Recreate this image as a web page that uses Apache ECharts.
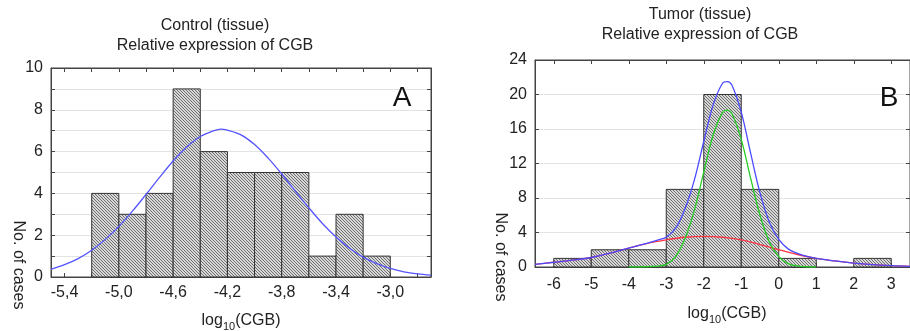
<!DOCTYPE html>
<html>
<head>
<meta charset="utf-8">
<script src="https://cdn.jsdelivr.net/npm/echarts@6/dist/echarts.min.js"></script>
<style>
  html, body { margin: 0; padding: 0; background: #fff; }
  #chart { width: 910px; height: 331px; }
</style>
</head>
<body>
<div id="chart"></div>
<script>
// ---- data ----
const controlEdges = [-5.2, -5.0, -4.8, -4.6, -4.4, -4.2, -4.0, -3.8, -3.6, -3.4, -3.2, -3.0];
const controlCounts = [4, 3, 4, 9, 6, 5, 5, 5, 1, 3, 1];
const controlCurveX = [-5.5, -5.4, -5.3, -5.2, -5.1, -5.0, -4.9, -4.8, -4.7, -4.6, -4.5, -4.4, -4.3, -4.25, -4.2,
  -4.1, -4.0, -3.9, -3.8, -3.7, -3.6, -3.5, -3.4, -3.3, -3.2, -3.1, -3.0, -2.9, -2.8, -2.7];
const controlCurveY = [0.37, 0.59, 0.88, 1.28, 1.80, 2.42, 3.15, 3.95, 4.77, 5.55, 6.22, 6.72, 7.0, 7.08, 7.03,
  6.80, 6.34, 5.69, 4.93, 4.11, 3.31, 2.56, 1.91, 1.38, 0.95, 0.64, 0.41, 0.25, 0.15, 0.09];
const controlTickLabels = [-5.4, -5.0, -4.6, -4.2, -3.8, -3.4, -3.0];
const controlTicks = [-5.4, -5.2, -5.0, -4.8, -4.6, -4.4, -4.2, -4.0, -3.8, -3.6, -3.4, -3.2, -3.0, -2.8];
const controlYLabels = [0, 2, 4, 6, 8, 10];

const tumorEdges = [-6, -5, -4, -3, -2, -1, 0, 1, 2, 3];
const tumorCounts = [1, 2, 2, 9, 20, 9, 1, 0, 1];
const tumorRedX = [-6.5, -6, -5.5, -5, -4.5, -4, -3.5, -3, -2.5, -2, -1.5, -1, -0.5, 0, 0.5, 1, 1.5, 2, 2.5, 3, 3.5];
const tumorRedY = [0.3, 0.55, 0.8, 1.1, 1.6, 2.2, 2.75, 3.15, 3.45, 3.55, 3.45, 3.15, 2.6, 2.0, 1.45, 1.0, 0.7, 0.45, 0.27, 0.15, 0.08];
const tumorGreenX = [-4, -3.5, -3.25, -3, -2.75, -2.5, -2.25, -2, -1.75, -1.5, -1.375, -1.25, -1, -0.75, -0.5, -0.25, 0, 0.25, 0.5, 0.75, 1];
const tumorGreenY = [0, 0.03, 0.1, 0.3, 1.2, 3.3, 6.6, 11.0, 15.3, 17.9, 18.2, 17.8, 14.8, 10.3, 6.0, 2.9, 1.2, 0.4, 0.12, 0.03, 0];
const tumorBlueX = [-6.5, -6, -5.5, -5, -4.5, -4, -3.5, -3.25, -3, -2.75, -2.5, -2.25, -2, -1.75, -1.5, -1.375, -1.25, -1, -0.75,
  -0.5, -0.25, 0, 0.25, 0.5, 0.75, 1, 1.5, 2, 2.5, 3, 3.5];
const tumorBlueY = [0.3, 0.55, 0.8, 1.1, 1.6, 2.2, 2.78, 3.1, 3.45, 4.5, 6.75, 10.1, 14.55, 18.8, 21.3, 21.5, 21.1, 17.95, 13.2,
  8.6, 5.2, 3.2, 2.1, 1.57, 1.23, 1.0, 0.7, 0.45, 0.27, 0.15, 0.08];
const tumorTickLabels = [-6, -5, -4, -3, -2, -1, 0, 1, 2, 3];

const FONT = '"Liberation Sans", Arial, sans-serif';
const INK = '#222';

// diagonal hatch fill for the histogram bars
const hatch = document.createElement('canvas');
hatch.width = 3;
hatch.height = 3;
(function () {
  const ctx = hatch.getContext('2d');
  ctx.fillStyle = '#d8d8d8';
  ctx.fillRect(0, 0, 3, 3);
  ctx.fillStyle = '#6e6e6e';
  for (let i = 0; i < 3; i++) ctx.fillRect(i, i, 1, 1);
})();
const hatchFill = { image: hatch, repeat: 'repeat' };

function bins(edges, counts) {
  return counts.map((c, i) => [edges[i], edges[i + 1], c]);
}

function renderBin(params, api) {
  const y = api.value(2);
  if (!y) return null;
  const p0 = api.coord([api.value(0), y]);
  const p1 = api.coord([api.value(1), 0]);
  return {
    type: 'rect',
    shape: { x: p0[0], y: p0[1], width: p1[0] - p0[0], height: p1[1] - p0[1] },
    style: { fill: hatchFill, stroke: '#333', lineWidth: 1 }
  };
}

function pairs(xs, ys) {
  return xs.map((x, i) => [x, ys[i]]);
}

const frame = { show: true, onZero: false, lineStyle: { color: '#444', width: 1 } };
const inTick = { show: true, inside: true, length: 4, lineStyle: { color: '#444' } };
const label = { color: INK, fontSize: 16, fontFamily: FONT };

function line(name, x, y, xi, yi, color) {
  return {
    name: name, type: 'line', xAxisIndex: xi, yAxisIndex: yi,
    data: pairs(x, y), smooth: 0.35, showSymbol: false, symbol: 'none',
    lineStyle: { color: color, width: 1.3 }, z: 5, silent: true
  };
}

const chart = echarts.init(document.getElementById('chart'));
chart.setOption({
  animation: false,
  grid: [
    { left: 51, right: 479, top: 68, bottom: 54, show: true, borderColor: '#444', borderWidth: 1 },
    { left: 535, right: -9, top: 60, bottom: 64, show: true, borderColor: '#444', borderWidth: 1 }
  ],
  xAxis: [
    {
      gridIndex: 0, type: 'value', min: -5.5, max: -2.7, position: 'bottom',
      axisLine: frame, splitLine: { show: false },
      axisTick: Object.assign({}, inTick, { customValues: controlTicks }),
      axisLabel: Object.assign({}, label, {
        margin: 8, customValues: controlTickLabels,
        formatter: v => v.toFixed(1).replace('.', ',')
      })
    },
    {
      gridIndex: 0, type: 'value', min: -5.5, max: -2.7, position: 'top',
      axisLine: frame, splitLine: { show: false }, axisLabel: { show: false },
      axisTick: Object.assign({}, inTick, { customValues: controlTicks })
    },
    {
      gridIndex: 1, type: 'value', min: -6.5, max: 3.5, position: 'bottom',
      axisLine: frame, splitLine: { show: false },
      axisTick: Object.assign({}, inTick, { customValues: tumorTickLabels }),
      axisLabel: Object.assign({}, label, { margin: 10, customValues: tumorTickLabels })
    },
    {
      gridIndex: 1, type: 'value', min: -6.5, max: 3.5, position: 'top',
      axisLine: frame, splitLine: { show: false }, axisLabel: { show: false },
      axisTick: Object.assign({}, inTick, { customValues: tumorTickLabels })
    }
  ],
  yAxis: [
    {
      gridIndex: 0, type: 'value', min: 0, max: 10, interval: 1, position: 'left',
      axisLine: frame, axisTick: inTick,
      axisLabel: Object.assign({}, label, { margin: 8, customValues: controlYLabels }),
      splitLine: { show: true, lineStyle: { color: '#e3e3e3', width: 1 } }
    },
    {
      gridIndex: 0, type: 'value', min: 0, max: 10, interval: 1, position: 'right',
      axisLine: frame, axisTick: inTick, axisLabel: { show: false }, splitLine: { show: false }
    },
    {
      gridIndex: 1, type: 'value', min: 0, max: 24, interval: 4, position: 'left',
      axisLine: frame, axisTick: inTick,
      axisLabel: Object.assign({}, label, { margin: 8 }),
      splitLine: { show: true, lineStyle: { color: '#e3e3e3', width: 1 } }
    },
    {
      gridIndex: 1, type: 'value', min: 0, max: 24, interval: 4, position: 'right',
      axisLine: frame, axisTick: inTick, axisLabel: { show: false }, splitLine: { show: false }
    }
  ],
  series: [
    {
      type: 'custom', xAxisIndex: 0, yAxisIndex: 0, renderItem: renderBin,
      data: bins(controlEdges, controlCounts), encode: { x: [0, 1], y: 2 }, z: 2, silent: true
    },
    line('Control fit', controlCurveX, controlCurveY, 0, 0, '#5555ff'),
    {
      type: 'custom', xAxisIndex: 2, yAxisIndex: 2, renderItem: renderBin,
      data: bins(tumorEdges, tumorCounts), encode: { x: [0, 1], y: 2 }, z: 2, silent: true
    },
    line('Tumor broad', tumorRedX, tumorRedY, 2, 2, '#ff3344'),
    line('Tumor narrow', tumorGreenX, tumorGreenY, 2, 2, '#22cc22'),
    line('Tumor total', tumorBlueX, tumorBlueY, 2, 2, '#4a4aff')
  ],
  graphic: [
    { type: 'text', x: 215, y: 26, style: { text: 'Control (tissue)', fontSize: 16, fontFamily: FONT, fill: INK, align: 'center', verticalAlign: 'middle' } },
    { type: 'text', x: 215, y: 46, style: { text: 'Relative expression of CGB', fontSize: 16, fontFamily: FONT, fill: INK, align: 'center', verticalAlign: 'middle' } },
    { type: 'text', x: 700, y: 15, style: { text: 'Tumor (tissue)', fontSize: 16, fontFamily: FONT, fill: INK, align: 'center', verticalAlign: 'middle' } },
    { type: 'text', x: 700, y: 35, style: { text: 'Relative expression of CGB', fontSize: 16, fontFamily: FONT, fill: INK, align: 'center', verticalAlign: 'middle' } },
    { type: 'text', x: 402, y: 98, z: 10, style: { text: 'A', fontSize: 28, fontFamily: FONT, fill: '#111', align: 'center', verticalAlign: 'middle' } },
    { type: 'text', x: 889, y: 98, z: 10, style: { text: 'B', fontSize: 28, fontFamily: FONT, fill: '#111', align: 'center', verticalAlign: 'middle' } },
    { type: 'text', x: 18, y: 265, rotation: -Math.PI / 2, style: { text: 'No. of cases', fontSize: 16, fontFamily: FONT, fill: INK, align: 'center', verticalAlign: 'middle' } },
    { type: 'text', x: 500, y: 257, rotation: -Math.PI / 2, style: { text: 'No. of cases', fontSize: 16, fontFamily: FONT, fill: INK, align: 'center', verticalAlign: 'middle' } },
    {
      type: 'text', x: 241, y: 321, style: {
        text: '{n|log}{s|10}{n|(CGB)}', fill: INK, align: 'center', verticalAlign: 'middle',
        rich: { n: { fontSize: 16, fontFamily: FONT, lineHeight: 22, fill: INK }, s: { fontSize: 11, fontFamily: FONT, verticalAlign: 'bottom', lineHeight: 11, fill: INK } }
      }
    },
    {
      type: 'text', x: 727, y: 314, style: {
        text: '{n|log}{s|10}{n|(CGB)}', fill: INK, align: 'center', verticalAlign: 'middle',
        rich: { n: { fontSize: 16, fontFamily: FONT, lineHeight: 22, fill: INK }, s: { fontSize: 11, fontFamily: FONT, verticalAlign: 'bottom', lineHeight: 11, fill: INK } }
      }
    }
  ]
});
</script>
</body>
</html>
